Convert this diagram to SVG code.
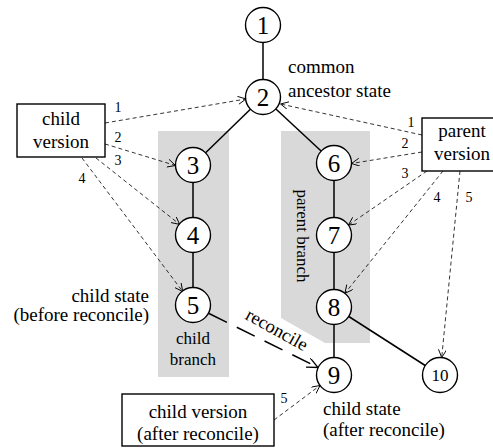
<svg xmlns="http://www.w3.org/2000/svg" width="493" height="448" viewBox="0 0 493 448" font-family="Liberation Serif, Tinos, DejaVu Serif, serif">
<style>
text{font-family:Liberation Serif, Tinos, DejaVu Serif, serif;fill:#000}
.num{font-size:25px;text-anchor:middle}
.lbl{font-size:19px}
.sm{font-size:14px;text-anchor:middle}
.mid{text-anchor:middle}
.end{text-anchor:end}
circle{fill:#fff;stroke:#000;stroke-width:1.4}
.box{fill:#fff;stroke:#000;stroke-width:1.4}
.edge{stroke:#000;stroke-width:1.5;fill:none}
.dash{stroke:#000;stroke-width:0.8;stroke-dasharray:4 3;fill:none;marker-end:url(#ah)}
.shade{fill:#d9d9d9}
</style>
<defs>
<marker id="ah" markerUnits="userSpaceOnUse" markerWidth="12" markerHeight="12" refX="8" refY="4" orient="auto">
<path d="M0,0 L8,4 L0,8" fill="none" stroke="#000" stroke-width="0.9"/>
</marker>
<marker id="ahL" markerUnits="userSpaceOnUse" markerWidth="14" markerHeight="14" refX="11" refY="5" orient="auto">
<path d="M0,0 L11,5 L0,10" fill="none" stroke="#000" stroke-width="1.3"/>
</marker>
</defs>
<g id="branches">
<rect class="shade" x="158" y="131" width="71" height="246"/>
<polygon class="shade" points="281,131 370,131 370,343 325,343 281,318"/>
<text class="mid" font-size="17" transform="translate(297,236) rotate(90)">parent branch</text>
<text class="mid" font-size="17" x="193" y="344">child</text>
<text class="mid" font-size="17" x="193" y="365">branch</text>
</g>
<g id="connectors">
<line class="edge" x1="263" y1="25" x2="263" y2="97"/>
<line class="edge" x1="263" y1="97" x2="193" y2="165"/>
<line class="edge" x1="263" y1="97" x2="334" y2="163"/>
<line class="edge" x1="193" y1="165" x2="193" y2="305"/>
<line class="edge" x1="334" y1="163" x2="334" y2="375"/>
<line class="edge" x1="334" y1="307" x2="440" y2="375"/>
<line x1="209" y1="313.5" x2="318" y2="367.5" stroke="#000" stroke-width="1.5" stroke-dasharray="20 11" fill="none" marker-end="url(#ahL)"/>
<text font-size="18.5" transform="translate(274,335) rotate(29)" text-anchor="middle">reconcile</text>
<path class="dash" d="M105,123 L246,99"/>
<path class="dash" d="M105,144 L175.5,165.5"/>
<path class="dash" d="M96,158 L179.7,224.4"/>
<path class="dash" d="M82,158 L182.7,291.5"/>
<path class="dash" d="M422,135 L280.5,104"/>
<path class="dash" d="M422,152 L351.5,163.5"/>
<path class="dash" d="M427,171 L348.4,225.1"/>
<path class="dash" d="M443,171 L344.9,293.3"/>
<path class="dash" d="M460,171 L441.7,357.6"/>
<path class="dash" d="M274,420 L320,385.5"/>
<text class="sm" x="118" y="112">1</text>
<text class="sm" x="118" y="142">2</text>
<text class="sm" x="118" y="165">3</text>
<text class="sm" x="82" y="183">4</text>
<text class="sm" x="411" y="127">1</text>
<text class="sm" x="405" y="148">2</text>
<text class="sm" x="405" y="178">3</text>
<text class="sm" x="437" y="202">4</text>
<text class="sm" x="469" y="202">5</text>
<text class="sm" x="284" y="403" font-size="13">5</text>
</g>
<g id="n1"><circle cx="263" cy="25" r="17.5"/><text class="num" x="263" y="34">1</text></g>
<g id="n2"><circle cx="263" cy="97" r="17.5"/><text class="num" x="263" y="106">2</text></g>
<g id="n3"><circle cx="193" cy="165" r="17.5"/><text class="num" x="193" y="174">3</text></g>
<g id="n4"><circle cx="193" cy="235" r="17.5"/><text class="num" x="193" y="244">4</text></g>
<g id="n5"><circle cx="193" cy="305" r="17.5"/><text class="num" x="193" y="314">5</text></g>
<g id="n6"><circle cx="334" cy="163" r="17.5"/><text class="num" x="334" y="172">6</text></g>
<g id="n7"><circle cx="334" cy="235" r="17.5"/><text class="num" x="334" y="244">7</text></g>
<g id="n8"><circle cx="334" cy="307" r="17.5"/><text class="num" x="334" y="316">8</text></g>
<g id="n9"><circle cx="334" cy="375" r="17.5"/><text class="num" x="334" y="384">9</text></g>
<g id="n10"><circle cx="440" cy="375" r="17.5"/><text class="mid" font-size="17" x="440" y="381">10</text></g>
<g id="child-version"><rect class="box" x="17" y="104" width="88" height="53"/><text class="lbl mid" x="61" y="125">child</text><text class="lbl mid" x="61" y="148">version</text></g>
<g id="parent-version"><rect class="box" x="422" y="118" width="80" height="53"/><text class="lbl mid" x="462" y="137">parent</text><text class="lbl mid" x="462" y="160">version</text></g>
<g id="child-version-after"><rect class="box" x="122" y="394" width="152" height="52"/><text class="lbl mid" x="198" y="418">child version</text><text class="lbl mid" x="198" y="440">(after reconcile)</text></g>
<g id="labels">
<text class="lbl" x="288" y="73">common</text>
<text class="lbl" x="288" y="97">ancestor state</text>
<text class="lbl end" x="149" y="302">child state</text>
<text class="lbl end" x="149" y="321">(before reconcile)</text>
<text class="lbl" x="323" y="415">child state</text>
<text class="lbl" x="323" y="436">(after reconcile)</text>
</g>
</svg>
